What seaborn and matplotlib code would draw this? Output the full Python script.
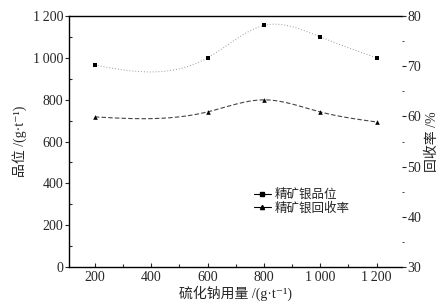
import matplotlib
matplotlib.use("Agg")
import matplotlib.pyplot as plt
import matplotlib.ticker as mticker
from matplotlib.lines import Line2D
import numpy as np
import pandas as pd
import seaborn as sns

dosage = [200, 600, 800, 1000, 1200]
grade = [965, 1000, 1155, 1100, 1000]       # g/t
recovery = [59.9, 60.9, 63.3, 60.9, 58.9]   # %

x_ticks = [200, 400, 600, 800, 1000, 1200]
x_labels = ['200', '400', '600', '800', '1\u2009000', '1\u2009200']
y_ticks = [0, 200, 400, 600, 800, 1000, 1200]
y_labels = ['0', '200', '400', '600', '800', '1\u2009000', '1\u2009200']

sns.set_style('ticks')
plt.rcParams['font.family'] = ['Liberation Serif', 'Noto Sans CJK SC', 'DejaVu Sans']


def smooth(xs, ys, n=200):
    # natural cubic spline, only used to draw the smoothed line between points
    xs = np.asarray(xs, float)
    ys = np.asarray(ys, float)
    k = len(xs)
    h = np.diff(xs)
    A = np.zeros((k, k))
    b = np.zeros(k)
    A[0, 0] = A[-1, -1] = 1
    for i in range(1, k - 1):
        A[i, i - 1] = h[i - 1]
        A[i, i] = 2 * (h[i - 1] + h[i])
        A[i, i + 1] = h[i]
        b[i] = 3 * ((ys[i + 1] - ys[i]) / h[i] - (ys[i] - ys[i - 1]) / h[i - 1])
    c = np.linalg.solve(A, b)
    xx = np.linspace(xs[0], xs[-1], n)
    yy = np.empty_like(xx)
    for j, x in enumerate(xx):
        i = min(np.searchsorted(xs, x, side='right') - 1, k - 2)
        dx = x - xs[i]
        bi = (ys[i + 1] - ys[i]) / h[i] - h[i] * (2 * c[i] + c[i + 1]) / 3
        di = (c[i + 1] - c[i]) / (3 * h[i])
        yy[j] = ys[i] + bi * dx + c[i] * dx ** 2 + di * dx ** 3
    return xx, yy


df = pd.DataFrame({'dosage': dosage, 'grade': grade, 'recovery': recovery})

fig = plt.figure(figsize=(4.48, 3.08), dpi=100)
ax = fig.add_axes([0.154, 0.133, 0.743, 0.815])
ax2 = ax.twinx()

gx, gy = smooth(dosage, grade)
ax.plot(gx, gy, color='#999999', lw=0.7, ls=(0, (1, 2)))
sns.scatterplot(data=df, x='dosage', y='grade', marker='s', color='black',
                s=9, edgecolor='black', linewidth=0, ax=ax, zorder=3)

rx, ry = smooth(dosage, recovery)
ax2.plot(rx, ry, color='#444444', lw=0.8, ls=(0, (4, 2)))
sns.scatterplot(data=df, x='dosage', y='recovery', marker='^', color='black',
                s=11, edgecolor='black', linewidth=0, ax=ax2, zorder=3)

ax.set_xlim(108, 1290)
ax.set_ylim(0, 1200)
ax2.set_ylim(30, 80)

ax.set_xticks(x_ticks)
ax.set_xticklabels(x_labels)
ax.set_yticks(y_ticks)
ax.set_yticklabels(y_labels)
ax.xaxis.set_minor_locator(mticker.MultipleLocator(100))
ax.yaxis.set_minor_locator(mticker.MultipleLocator(100))
ax2.set_yticks([30, 40, 50, 60, 70, 80])
ax2.yaxis.set_minor_locator(mticker.MultipleLocator(5))

for s in ax.spines.values():
    s.set_linewidth(1.0)
    s.set_color('black')
ax.spines['right'].set_visible(False)
ax2.spines['right'].set_visible(False)
ax2.spines['left'].set_visible(False)
ax2.spines['top'].set_visible(False)
ax2.spines['bottom'].set_visible(False)

ax.tick_params(axis='x', which='major', direction='in', length=3, width=0.8,
               labelsize=10, pad=3)
ax.tick_params(axis='x', which='minor', direction='in', length=2, width=0.8)
ax.tick_params(axis='y', which='major', direction='out', length=3, width=0.8,
               labelsize=10, pad=1)
ax.tick_params(axis='y', which='minor', direction='in', length=2, width=0.8)
ax2.tick_params(axis='y', which='major', direction='out', length=3, width=0.8,
                labelsize=10, pad=1)
ax2.tick_params(axis='y', which='minor', direction='out', length=1.5, width=0.6)

ax.set_xlabel('硫化钠用量 /(g·t⁻¹)', fontsize=10, labelpad=1)
ax.set_ylabel('品位 /(g·t⁻¹)', fontsize=10, labelpad=4)
ax2.set_ylabel('回收率 /%', fontsize=10, labelpad=3)

handles = [
    Line2D([], [], color='black', lw=0.8, marker='s', markersize=3),
    Line2D([], [], color='black', lw=0.8, marker='^', markersize=3),
]
ax.legend(handles, ['精矿银品位', '精矿银回收率'], loc='upper left',
          bbox_to_anchor=(0.54, 0.335), frameon=False, handlelength=1.4,
          handletextpad=0.3, labelspacing=0.05, borderaxespad=0,
          prop={'family': ['Noto Sans CJK SC'], 'size': 9})

fig.savefig('out.png', dpi=100)
